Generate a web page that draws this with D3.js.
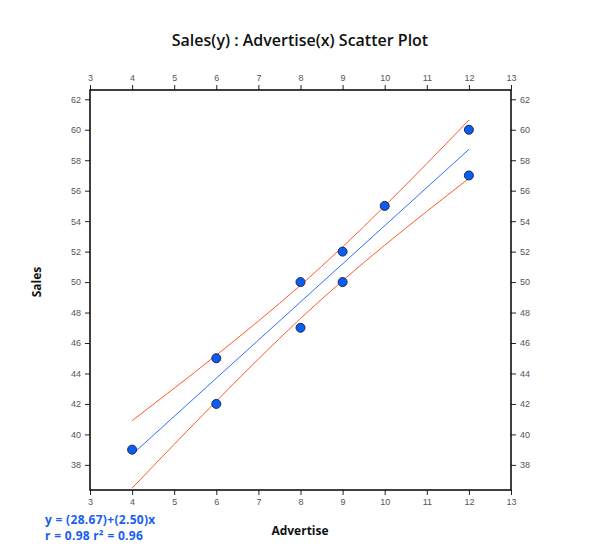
<!DOCTYPE html>
<html><head><meta charset="utf-8">
<script src="https://cdn.jsdelivr.net/npm/d3@7"></script>
<style>body{margin:0;background:#fff}svg{display:block;font-family:"Open Sans","Noto Sans",sans-serif}</style>
</head><body><svg id="c" width="600" height="560"></svg>
<script>
const advertise = [4, 6, 6, 8, 8, 9, 9, 10, 12, 12];
const sales = [39, 45, 42, 50, 47, 52, 50, 55, 60, 57];
const fitX = [4, 12];
const fitY = [38.68, 58.71];
const bandX = [4, 5, 6, 7, 8, 9, 10, 11, 12];
const bandUpper = [40.90, 43.03, 45.20, 47.44, 49.79, 52.31, 54.99, 57.78, 60.63];
const bandLower = [36.47, 39.35, 42.18, 44.95, 47.61, 50.09, 52.42, 54.64, 56.80];
const xTicks = [3, 4, 5, 6, 7, 8, 9, 10, 11, 12, 13];
const yTicks = [38, 40, 42, 44, 46, 48, 50, 52, 54, 56, 58, 60, 62];
const equationLines = ["y = (28.67)+(2.50)x", "r = 0.98 r² = 0.96"];

const svg = d3.select("#c");
const L = 90, R = 511, T = 90, B = 490;
const x = d3.scaleLinear().domain([3, 13]).range([L, R]);
const y = d3.scaleLinear().domain([36.35, 62.61]).range([B, T]);

svg.append("text").attr("x", 300).attr("y", 46).attr("text-anchor", "middle")
  .attr("font-size", 16).attr("font-weight", 600).attr("fill", "#111")
  .text("Sales(y) : Advertise(x) Scatter Plot");

function styleAxis(g) {
  g.selectAll(".domain").remove();
  g.selectAll(".tick line").attr("stroke", "#222");
  g.selectAll(".tick text").attr("fill", "#555").attr("font-size", 9);
}
svg.append("g").attr("transform", `translate(0,${B})`)
  .call(d3.axisBottom(x).tickValues(xTicks).tickSize(5).tickPadding(4)).call(styleAxis);
svg.append("g").attr("transform", `translate(0,${T})`)
  .call(d3.axisTop(x).tickValues(xTicks).tickSize(5).tickPadding(4)).call(styleAxis);
svg.append("g").attr("transform", `translate(${L},0)`)
  .call(d3.axisLeft(y).tickValues(yTicks).tickSize(5).tickPadding(4)).call(styleAxis);
svg.append("g").attr("transform", `translate(${R},0)`)
  .call(d3.axisRight(y).tickValues(yTicks).tickSize(5).tickPadding(4)).call(styleAxis);

svg.append("rect").attr("x", L).attr("y", T).attr("width", R - L).attr("height", B - T)
  .attr("fill", "none").attr("stroke", "#000").attr("stroke-width", 1.5);

const band = d3.line().x(d => x(d[0])).y(d => y(d[1])).curve(d3.curveMonotoneX);
svg.append("path").datum(bandX.map((v, i) => [v, bandUpper[i]])).attr("d", band)
  .attr("fill", "none").attr("stroke", "#ff5a28").attr("stroke-width", 1);
svg.append("path").datum(bandX.map((v, i) => [v, bandLower[i]])).attr("d", band)
  .attr("fill", "none").attr("stroke", "#ff5a28").attr("stroke-width", 1);
svg.append("path").datum(fitX.map((v, i) => [v, fitY[i]])).attr("d", band)
  .attr("fill", "none").attr("stroke", "#2f6fff").attr("stroke-width", 1);

svg.append("g").selectAll("circle").data(advertise).join("circle")
  .attr("cx", d => x(d)).attr("cy", (d, i) => y(sales[i])).attr("r", 4.5)
  .attr("fill", "#0a5cf5").attr("stroke", "#1a2a50").attr("stroke-width", 1);

svg.append("text").attr("x", 300).attr("y", 535).attr("text-anchor", "middle")
  .attr("font-size", 12).attr("font-weight", 700).attr("fill", "#111").text("Advertise");
svg.append("text").attr("transform", "translate(41,282) rotate(-90)").attr("text-anchor", "middle")
  .attr("font-size", 12).attr("font-weight", 700).attr("fill", "#111").text("Sales");

svg.append("g").selectAll("text").data(equationLines).join("text")
  .attr("x", 45).attr("y", (d, i) => 524 + i * 16)
  .attr("font-size", 12).attr("font-weight", 700).attr("letter-spacing", 0.3)
  .attr("fill", "#1a5ef0").text(d => d);
</script></body></html>
